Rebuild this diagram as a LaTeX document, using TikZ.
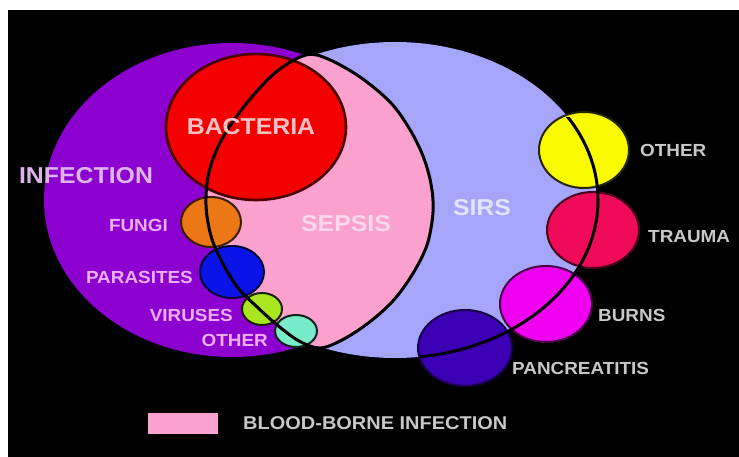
\documentclass[tikz,border=0pt]{standalone}
\usepackage{fontspec}
\newfontfamily\labfont[FakeStretch=1.08]{Liberation Sans}
\definecolor{infc}{RGB}{140,0,208}
\definecolor{sepc}{RGB}{250,162,205}
\definecolor{sirc}{RGB}{165,165,250}
\definecolor{bacc}{RGB}{245,0,0}
\definecolor{fungc}{RGB}{235,120,20}
\definecolor{parc}{RGB}{10,20,230}
\definecolor{virc}{RGB}{170,230,30}
\definecolor{othlc}{RGB}{120,235,200}
\definecolor{othrc}{RGB}{250,250,0}
\definecolor{traumc}{RGB}{240,10,90}
\definecolor{burnc}{RGB}{240,0,240}
\definecolor{pancc}{RGB}{60,0,180}
\definecolor{txtpink}{RGB}{235,175,245}
\definecolor{txtinf}{RGB}{220,180,235}
\definecolor{txtbac}{RGB}{250,195,195}
\definecolor{txtsep}{RGB}{250,215,235}
\definecolor{txtsir}{RGB}{228,228,255}
\definecolor{txtgrey}{RGB}{200,200,200}
\begin{document}
\begin{tikzpicture}[x=1pt,y=-1pt,
  lab/.style={font=\labfont\bfseries\fontsize{17.5}{20}\selectfont, inner sep=0pt, text=txtpink},
  big/.style={font=\labfont\bfseries\fontsize{23}{26}\selectfont, inner sep=0pt},
  rlab/.style={lab, text=txtgrey, anchor=west},
  llab/.style={lab, anchor=east},
  blob/.style={line width=2pt},
  edgeline/.style={line width=3pt, draw=black}]
\useasboundingbox (0,0) rectangle (739,457);
\fill[white] (0,0) rectangle (739,457);
\fill[black] (8,10) rectangle (739,457);
% SIRS
\fill[sirc] (395,200) ellipse [x radius=203, y radius=158];
% Infection
\fill[infc] (232,200) ellipse [x radius=188, y radius=157];
% Sepsis
\fill[sepc] plot[smooth cycle, tension=0.55] coordinates {(306,55) (328,59) (360,77) (390,102) (409,128) (423,156) (431,184) (433,212) (427,245) (412,275) (392,302) (367,324) (342,340) (320,348) (299,341) (276,324) (255,305) (238,288) (222,262) (211,236) (206,205) (209,172) (222,139) (246,104) (276,72)};
% small circles
\filldraw[fill=bacc, draw=bacc!30!black, line width=2.6pt] (256,127) ellipse [x radius=90, y radius=73];
\filldraw[fill=fungc, draw=fungc!25!black, blob] (211,222) ellipse [x radius=30, y radius=25];
\filldraw[fill=parc, draw=parc!25!black, blob] (232,272) ellipse [x radius=32, y radius=26];
\filldraw[fill=virc, draw=virc!15!black, blob] (262,309) ellipse [x radius=20, y radius=16];
\filldraw[fill=othlc, draw=othlc!15!black, blob] (296,331) ellipse [x radius=21, y radius=16];
\filldraw[fill=othrc, draw=othrc!15!black, blob] (584,150) ellipse [x radius=45, y radius=38];
\filldraw[fill=traumc, draw=traumc!30!black, blob] (593,230) ellipse [x radius=46, y radius=38];
\filldraw[fill=burnc, draw=burnc!30!black, blob] (546,304) ellipse [x radius=46, y radius=38];
\filldraw[fill=pancc, draw=pancc!40!black, blob] (465,348) ellipse [x radius=47, y radius=38];
% SIRS boundary (right part, through the small circles)
\begin{scope}
\clip (420,118) rectangle (739,457);
\draw[edgeline] (395,200) ellipse [x radius=203, y radius=158];
\end{scope}
% Sepsis boundary
\draw[edgeline] plot[smooth cycle, tension=0.55] coordinates {(306,55) (328,59) (360,77) (390,102) (409,128) (423,156) (431,184) (433,212) (427,245) (412,275) (392,302) (367,324) (342,340) (320,348) (299,341) (276,324) (255,305) (238,288) (222,262) (211,236) (206,205) (209,172) (222,139) (246,104) (276,72)};
% labels
\node[big, text=txtinf] (inf) at (86,176) {INFECTION};
\node[big, text=txtbac] (bac) at (251,127) {BACTERIA};
\node[big, text=txtsep] (sep) at (346,224) {SEPSIS};
\node[big, text=txtsir] (sir) at (482,208) {SIRS};
\node[llab] (fun) at (168,225) {FUNGI};
\node[llab] (par) at (193,277) {PARASITES};
\node[llab] (vir) at (233,315) {VIRUSES};
\node[llab] (oth) at (268,340) {OTHER};
\node[rlab] (othr) at (640,150) {OTHER};
\node[rlab] (tra) at (648,237) {TRAUMA};
\node[rlab] (bur) at (598,315) {BURNS};
\node[rlab] (pan) at (512,368) {PANCREATITIS};
% legend
\fill[sepc] (148,413) rectangle (218,434);
\node[rlab, font=\labfont\bfseries\fontsize{18.5}{20}\selectfont] (leg) at (243,423) {BLOOD-BORNE INFECTION};
\end{tikzpicture}
\end{document}
